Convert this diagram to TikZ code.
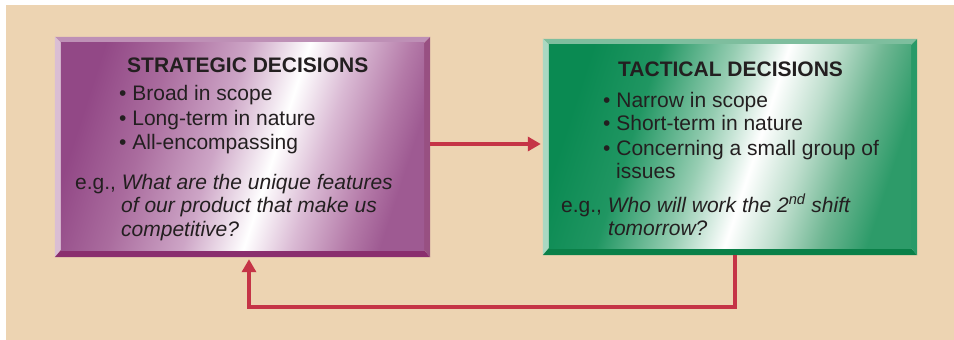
\documentclass[tikz,border=0pt]{standalone}
\usepackage{fontspec}
\setmainfont{Liberation Sans}
\usetikzlibrary{arrows.meta}

\definecolor{bgsand}{RGB}{237,212,178}
\definecolor{linkred}{RGB}{197,52,70}
\definecolor{inktext}{RGB}{35,31,32}
% purple box
\definecolor{purpdark}{RGB}{146,72,134}
\definecolor{purpmid}{RGB}{170,108,158}
\definecolor{purpsoft}{RGB}{205,165,198}
\definecolor{purplite}{RGB}{218,186,212}
\definecolor{purpfar}{RGB}{180,122,168}
\definecolor{purpright}{RGB}{158,90,146}
\definecolor{purptop}{RGB}{190,144,182}
\definecolor{purpleft}{RGB}{218,190,212}
\definecolor{purpbot}{RGB}{138,46,110}
\definecolor{purpside}{RGB}{152,80,130}
% green box
\definecolor{grndark}{RGB}{10,138,82}
\definecolor{grnmid}{RGB}{32,150,98}
\definecolor{grnsoft}{RGB}{150,205,178}
\definecolor{grnlite}{RGB}{190,222,205}
\definecolor{grnfar}{RGB}{110,182,146}
\definecolor{grnright}{RGB}{45,155,105}
\definecolor{grntop}{RGB}{126,190,158}
\definecolor{grnleft}{RGB}{170,216,194}
\definecolor{grnbot}{RGB}{10,128,72}
\definecolor{grnside}{RGB}{40,154,104}

\pgfdeclarehorizontalshading{stratglow}{100bp}{color(0bp)=(purpdark); color(25bp)=(purpdark); color(35bp)=(purpmid); color(46bp)=(purpsoft); color(55bp)=(white); color(62bp)=(purplite); color(70bp)=(purpfar); color(75bp)=(purpright); color(100bp)=(purpright)}
\pgfdeclarehorizontalshading{tactglow}{100bp}{color(0bp)=(grndark); color(25bp)=(grndark); color(35bp)=(grnmid); color(46bp)=(grnsoft); color(54bp)=(white); color(61bp)=(grnlite); color(68bp)=(grnfar); color(75bp)=(grnright); color(100bp)=(grnright)}

\begin{document}
\begin{tikzpicture}[x=1pt,y=-1pt,
    txt/.style={anchor=base west, inner sep=0pt, text=inktext, font=\fontsize{21}{24}\selectfont},
    head/.style={txt, font=\fontsize{21}{24}\selectfont\bfseries},
    frame/.style={inner sep=0pt},
    link/.style={draw=linkred, line width=3.5pt, -{Triangle[length=13pt,width=14pt]}, shorten >=2pt}]
        \fill[white] (0,0) rectangle (954,340);
        \fill[bgsand] (6,5) rectangle (954,340);
        % strategic box
        \node[frame, minimum width=375pt, minimum height=220pt] (strat) at (242.5,147) {};
        \fill[purptop] (strat.north west) -- (strat.north east) -- ([xshift=-6pt,yshift=-6pt]strat.north east) -- ([xshift=6pt,yshift=-6pt]strat.north west) -- cycle;
        \fill[purpleft] (strat.north west) -- ([xshift=6pt,yshift=-6pt]strat.north west) -- ([xshift=6pt,yshift=7pt]strat.south west) -- (strat.south west) -- cycle;
        \fill[purpbot] (strat.south west) -- ([xshift=6pt,yshift=7pt]strat.south west) -- ([xshift=-6pt,yshift=7pt]strat.south east) -- (strat.south east) -- cycle;
        \fill[purpside] (strat.south east) -- ([xshift=-6pt,yshift=7pt]strat.south east) -- ([xshift=-6pt,yshift=-6pt]strat.north east) -- (strat.north east) -- cycle;
        \shade[shading=stratglow, shading angle=-18] ([xshift=6pt,yshift=-6pt]strat.north west) rectangle ([xshift=-6pt,yshift=7pt]strat.south east);
        % tactical box
        \node[frame, minimum width=374pt, minimum height=216pt] (tact) at (730,147) {};
        \fill[grntop] (tact.north west) -- (tact.north east) -- ([xshift=-6pt,yshift=-6pt]tact.north east) -- ([xshift=6pt,yshift=-6pt]tact.north west) -- cycle;
        \fill[grnleft] (tact.north west) -- ([xshift=6pt,yshift=-6pt]tact.north west) -- ([xshift=6pt,yshift=7pt]tact.south west) -- (tact.south west) -- cycle;
        \fill[grnbot] (tact.south west) -- ([xshift=6pt,yshift=7pt]tact.south west) -- ([xshift=-6pt,yshift=7pt]tact.south east) -- (tact.south east) -- cycle;
        \fill[grnside] (tact.south east) -- ([xshift=-6pt,yshift=7pt]tact.south east) -- ([xshift=-6pt,yshift=-6pt]tact.north east) -- (tact.north east) -- cycle;
        \shade[shading=tactglow, shading angle=-18] ([xshift=6pt,yshift=-6pt]tact.north west) rectangle ([xshift=-6pt,yshift=7pt]tact.south east);
        % texts
        \node[head] (stitle) at (127,72.7) {STRATEGIC DECISIONS};
        \node[txt] (s1) at (119,100.7) {• Broad in scope};
        \node[txt] (s2) at (119,125) {• Long-term in nature};
        \node[txt] (s3) at (119,149) {• All-encompassing};
        \node[txt] (s4) at (75,189) {e.g., \textit{What are the unique features}};
        \node[txt] (s5) at (121,212.5) {\textit{of our product that make us}};
        \node[txt] (s6) at (121,236) {\textit{competitive?}};
        \node[head] (ttitle) at (618,76) {TACTICAL DECISIONS};
        \node[txt] (t1) at (603,107.3) {• Narrow in scope};
        \node[txt] (t2) at (603,130.7) {• Short-term in nature};
        \node[txt] (t3) at (603,155) {• Concerning a small group of};
        \node[txt] (t4) at (616,178.3) {issues};
        \node[txt] (t5) at (561,212.3) {e.g., \textit{Who will work the 2\textsuperscript{nd} shift}};
        \node[txt] (t6) at (608,235.7) {\textit{tomorrow?}};
        % connectors
        \coordinate (arrowin) at ([yshift=3pt]strat.east);
        \draw[link] (arrowin) -- (arrowin -| tact.west);
        \draw[link] ([xshift=5pt]tact.south) -- ++(0,52) -| ([xshift=6.5pt]strat.south);
    \end{tikzpicture}
\end{document}
